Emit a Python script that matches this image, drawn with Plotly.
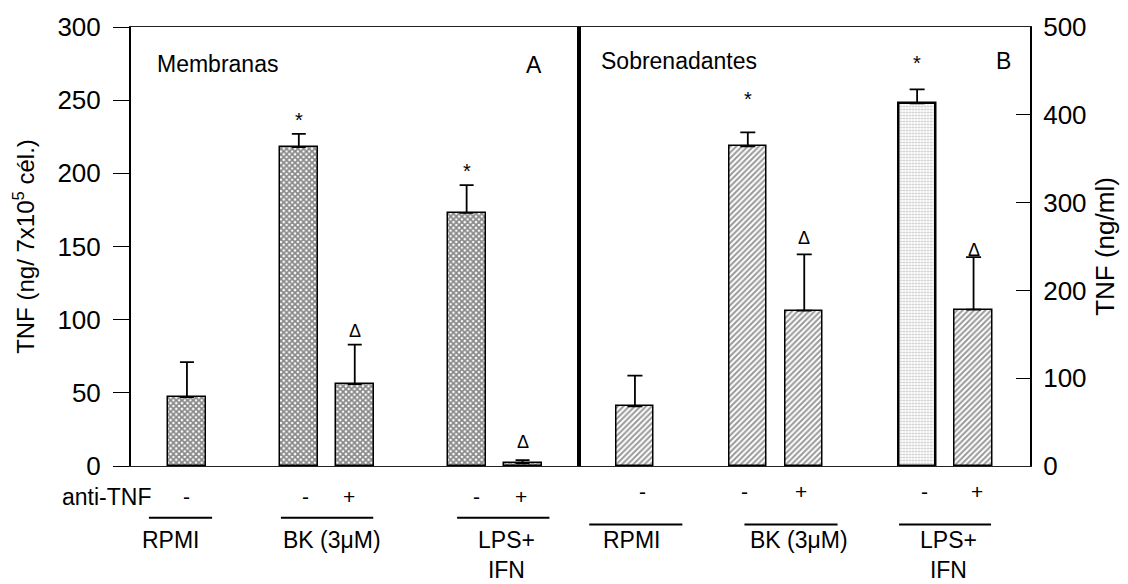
import plotly.graph_objects as go

# --- data -------------------------------------------------------------
groups = ["RPMI", "BK (3μM)", "LPS+<br>IFN"]
bar_pos = [0, 2, 3, 5, 6]            # slot of each bar on the category axis
anti_tnf = ["-", "-", "+", "-", "+"]

membranas = [47, 218, 56, 173, 2]            # ng / 7x10^5 cells
membranas_err = [24, 9, 27, 19, 2]
membranas_marks = ["", "*", "Δ", "*", "Δ"]

sobrenadantes = [68, 364, 177, 413, 178]     # ng/ml
sobrenadantes_err = [35, 16, 64, 16, 60]
sobrenadantes_marks = ["", "*", "Δ", "*", "Δ"]

# --- styling ----------------------------------------------------------
FONT = "Liberation Sans, Arial, Helvetica, sans-serif"
TXT = 23
TICK = 26
mark_lift_a = [0, 14, 14, 14, 18]   # px between error cap and significance mark
mark_lift_b = [0, 33, 16, 26, 7]
sign_shift_a = [0, 7, -6, 10, -2]   # small horizontal nudges of the +/- row
sign_shift_b = [8, -3, -3, 7, 3]

fig = go.Figure()

fig.add_trace(go.Bar(
    x=bar_pos, y=membranas, width=0.68, xaxis="x", yaxis="y",
    marker=dict(color="white",
                line=dict(color="black", width=1.5),
                pattern=dict(shape="x", size=4, solidity=0.7,
                             fgcolor="#111", bgcolor="white")),
    error_y=dict(type="data", symmetric=False, array=membranas_err,
                 arrayminus=[0] * len(membranas), thickness=1.8, width=7,
                 color="black"),
    showlegend=False,
))

fig.add_trace(go.Bar(
    x=bar_pos, y=sobrenadantes, width=0.66, xaxis="x2", yaxis="y2",
    marker=dict(color="white",
                line=dict(color="black", width=[1.5, 1.5, 1.5, 2.5, 1.5]),
                pattern=dict(shape=["/", "/", "/", ".", "/"],
                             size=[4, 4, 4, 3, 4],
                             solidity=[0.5, 0.5, 0.5, 0.35, 0.5],
                             fgcolor=["#333", "#333", "#333", "#888", "#333"],
                             bgcolor="white")),
    error_y=dict(type="data", symmetric=False, array=sobrenadantes_err,
                 arrayminus=[0] * len(sobrenadantes), thickness=1.8, width=7.5,
                 color="black"),
    showlegend=False,
))

annotations = []
shapes = []

# significance marks above the error bars
for xr, yr, vals, errs, marks, lifts in [
    ("x", "y", membranas, membranas_err, membranas_marks, mark_lift_a),
    ("x2", "y2", sobrenadantes, sobrenadantes_err, sobrenadantes_marks, mark_lift_b),
]:
    for p, v, e, m, lift in zip(bar_pos, vals, errs, marks, lifts):
        if not m:
            continue
        annotations.append(dict(
            x=p, y=v + e, xref=xr, yref=yr, text=m, showarrow=False,
            yanchor="middle", yshift=lift,
            font=dict(family=FONT, size=18 if m == "Δ" else 20, color="black"),
        ))

# panel captions
annotations += [
    dict(x=0.0267, y=0.916, xref="paper", yref="paper", text="Membranas",
         xanchor="left", yanchor="middle", showarrow=False,
         font=dict(family=FONT, size=TXT, color="black")),
    dict(x=0.4483, y=0.914, xref="paper", yref="paper", text="A",
         xanchor="center", yanchor="middle", showarrow=False,
         font=dict(family=FONT, size=TXT, color="black")),
    dict(x=0.5206, y=0.923, xref="paper", yref="paper", text="Sobrenadantes",
         xanchor="left", yanchor="middle", showarrow=False,
         font=dict(family=FONT, size=TXT, color="black")),
    dict(x=0.970, y=0.923, xref="paper", yref="paper", text="B",
         xanchor="center", yanchor="middle", showarrow=False,
         font=dict(family=FONT, size=TXT, color="black")),
    dict(x=0.0245, y=-0.070, xref="paper", yref="paper", text="anti-TNF",
         xanchor="right", yanchor="middle", showarrow=False,
         font=dict(family=FONT, size=TXT, color="black")),
]

# treatment rows under each panel: signs, group bars and group names
for xr, sign_y, line_y, label_y, spans, label_x, shifts in [
    ("x", -0.070, -0.1176, -0.134,
     [(-0.68, 0.45), (1.68, 3.33), (4.83, 6.48)], [-0.28, 2.6, 5.72], sign_shift_a),
    ("x2", -0.059, -0.1335, -0.134,
     [(-0.81, 0.84), (1.94, 3.59), (4.68, 6.31)], [-0.05, 2.91, 5.56], sign_shift_b),
]:
    for p, s, dx in zip(bar_pos, anti_tnf, shifts):
        annotations.append(dict(
            x=p, y=sign_y, xref=xr, yref="paper", text=s, showarrow=False,
            xshift=dx, yanchor="middle",
            font=dict(family=FONT, size=21, color="black")))
    for (x0, x1), lx, g in zip(spans, label_x, groups):
        shapes.append(dict(type="line", xref=xr, yref="paper",
                           x0=x0, x1=x1, y0=line_y, y1=line_y,
                           line=dict(color="black", width=2)))
        annotations.append(dict(
            x=lx, y=label_y, xref=xr, yref="paper", text=g,
            showarrow=False, yanchor="top", align="center",
            font=dict(family=FONT, size=TXT, color="black")))

split = 447.5 / 899

fig.update_layout(
    width=1128, height=584,
    margin=dict(l=131, r=98, t=24, b=118),
    paper_bgcolor="white", plot_bgcolor="white",
    font=dict(family=FONT, size=TXT, color="black"),
    bargap=0,
    xaxis=dict(domain=[0, split], range=[-1, 7], showline=True, linewidth=1,
               linecolor="#222", mirror=True, showticklabels=False,
               ticks="", showgrid=False, zeroline=False, fixedrange=True),
    xaxis2=dict(domain=[split, 1], range=[-1, 7], anchor="y2", showline=True,
                linewidth=1, linecolor="#222", mirror=True,
                showticklabels=False, ticks="", showgrid=False,
                zeroline=False, fixedrange=True),
    yaxis=dict(range=[0, 300], tickvals=[0, 50, 100, 150, 200, 250, 300],
               ticks="outside", ticklen=16, tickwidth=1.2, tickcolor="black",
               ticklabelstandoff=7,
               showline=True, linewidth=2, linecolor="black", mirror=True,
               showgrid=False, zeroline=False, anchor="x",
               tickfont=dict(family=FONT, size=TICK, color="black"),
               title=dict(text="TNF (ng/ 7x10<sup>5</sup> cél.)", standoff=16,
                          font=dict(family=FONT, size=24, color="black"))),
    yaxis2=dict(range=[0, 500], tickvals=[0, 100, 200, 300, 400, 500],
                side="right", anchor="x2", ticks="inside", ticklen=14,
                tickwidth=1.2, tickcolor="black", ticklabelstandoff=6,
                showline=True, linewidth=2, linecolor="black", mirror=True,
                showgrid=False, zeroline=False,
                tickfont=dict(family=FONT, size=TICK, color="black"),
                title=dict(text="TNF (ng/ml)", standoff=10,
                           font=dict(family=FONT, size=26, color="black"))),
    annotations=annotations,
    shapes=shapes,
)

fig.write_html("out.html")
